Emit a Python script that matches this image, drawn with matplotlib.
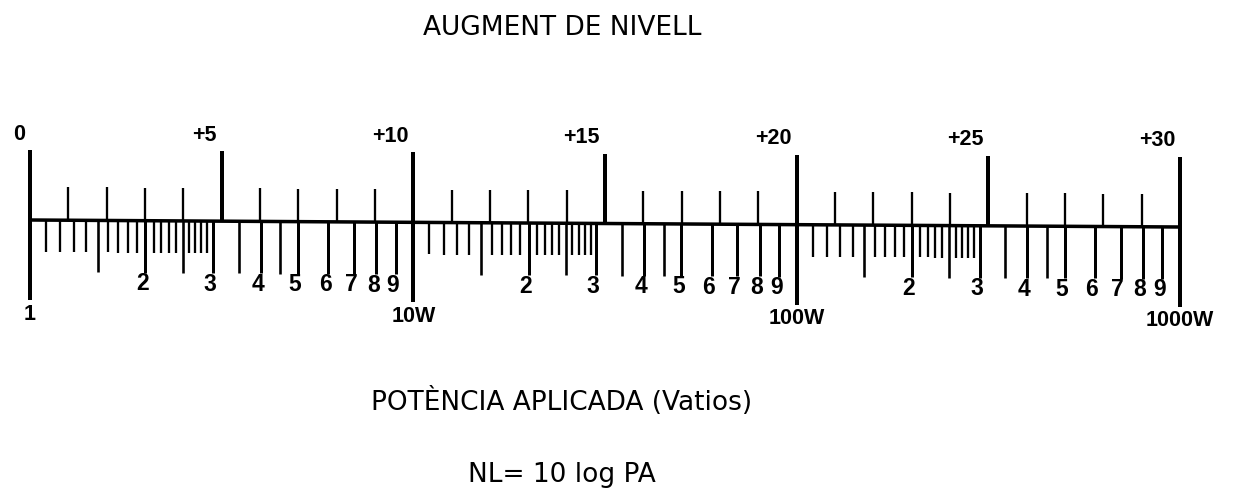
import numpy as np
import matplotlib.pyplot as plt

# upper scale: level increase (dB)
db_major = [0, 5, 10, 15, 20, 25, 30]
db_major_labels = ['0', '+5', '+10', '+15', '+20', '+25', '+30']
db_minor = [1, 2, 3, 4, 6, 7, 8, 9, 11, 12, 13, 14,
            16, 17, 18, 19, 21, 22, 23, 24, 26, 27, 28, 29]

# lower scale: applied power (W), marks repeated in every decade
decades = [1, 10, 100, 1000]
decade_labels = ['1', '10W', '100W', '1000W']
digit_marks = [2, 3, 4, 5, 6, 7, 8, 9]
digit_labels = ['2', '3', '4', '5', '6', '7', '8', '9']
half_marks = [1.5, 2.5, 3.5, 4.5]
tenth_marks = [1.1, 1.2, 1.3, 1.4, 1.6, 1.7, 1.8, 1.9,
               2.1, 2.2, 2.3, 2.4, 2.6, 2.7, 2.8, 2.9]

W, H, DPI = 1248, 492, 100
PX = 72.0 / DPI          # one pixel in points
px_per_db = (1180 - 30) / 30.0
x0 = -30 / px_per_db
x1 = (W - 30) / px_per_db
LABEL_FONT = dict(fontweight='bold', family='Liberation Sans')


def base(db):
    # the scanned scale line drops slightly towards the right
    return 220 + 7 * np.asarray(db) / 30.0


def main():
    fig = plt.figure(figsize=(W / DPI, H / DPI), dpi=DPI)
    ax = fig.add_axes([0, 0, 1, 1])
    ax.set_xlim(x0, x1)
    ax.set_ylim(H, 0)
    ax.axis('off')

    # second x axis in watts, log scale, shares the y axis
    axw = ax.twiny()
    axw.set_xscale('log')
    axw.set_xlim(10 ** (x0 / 10), 10 ** (x1 / 10))
    axw.axis('off')

    # main line
    ax.plot([0, 30], base([0, 30]), color='black', lw=3.5 * PX,
            solid_capstyle='butt')

    # dB ticks above the line
    ax.vlines(db_major, base(db_major) - 70, base(db_major),
              color='black', lw=4 * PX)
    ax.vlines(db_minor, base(db_minor) - 33, base(db_minor),
              color='black', lw=2.3 * PX)
    for d, lab in zip(db_major, db_major_labels):
        ax.text(d - 5 / px_per_db, base(d) - 86, lab, ha='right', va='center',
                fontsize=15.5, **LABEL_FONT)

    # watt ticks below the line
    def wbase(w):
        return base(10 * np.log10(w))

    axw.vlines(decades, wbase(decades), wbase(decades) + 80,
               color='black', lw=4 * PX)
    for dec, lab in zip(decades, decade_labels):
        axw.text(dec, wbase(dec) + 94, lab, ha='center', va='center',
                 fontsize=15.5, **LABEL_FONT)

    for dec in decades[:-1]:
        digits = np.array(digit_marks) * dec
        halves = np.array(half_marks) * dec
        tenths = np.array(tenth_marks) * dec
        axw.vlines(digits, wbase(digits), wbase(digits) + 52,
                   color='black', lw=3 * PX)
        axw.vlines(halves, wbase(halves), wbase(halves) + 52,
                   color='black', lw=2.6 * PX)
        axw.vlines(tenths, wbase(tenths), wbase(tenths) + 32,
                   color='black', lw=2.3 * PX)
        for w, lab in zip(digits, digit_labels):
            axw.annotate(lab, (w, wbase(w) + 63), xytext=(-3 * PX, 0),
                         textcoords='offset points', ha='center', va='center',
                         fontsize=16.5, **LABEL_FONT)

    # captions
    mid = (562 - 30) / px_per_db
    ax.text(mid, 28, 'AUGMENT DE NIVELL', ha='center', va='center',
            fontsize=19, family='DejaVu Sans')
    ax.text(mid, 402, 'POTÈNCIA APLICADA (Vatios)', ha='center', va='center',
            fontsize=19, family='DejaVu Sans')
    ax.text(mid, 475, 'NL= 10 log PA', ha='center', va='center',
            fontsize=19, family='DejaVu Sans')

    fig.savefig('out.png', dpi=DPI, facecolor='white')


if __name__ == '__main__':
    main()
